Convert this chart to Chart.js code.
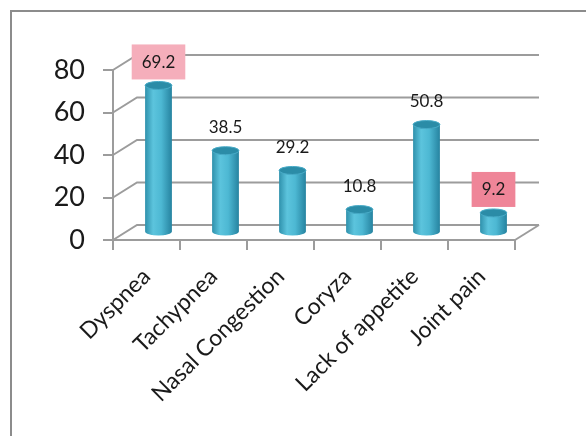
<!DOCTYPE html>
<html>
<head>
<meta charset="utf-8">
<script src="https://cdn.jsdelivr.net/npm/chart.js"></script>
<style>
  html, body { margin: 0; padding: 0; background: #fff; }
  #wrap { position: relative; width: 586px; height: 436px; }
</style>
</head>
<body>
<div id="wrap"><canvas id="symptomChart" width="586" height="436"></canvas></div>
<script>
const symptoms = ['Dyspnea', 'Tachypnea', 'Nasal Congestion', 'Coryza', 'Lack of appetite', 'Joint pain'];
const percentages = [69.2, 38.5, 29.2, 10.8, 50.8, 9.2];
const yTicks = [0, 20, 40, 60, 80];
const labelBoxColors = ['#f5aebb', null, null, null, null, '#ef8598'];

// offset of the back wall (fake 3D depth)
const DEPTH_X = 24;
const DEPTH_Y = -15;
const LINE_COLOR = '#9c9c9c';
const FONT = 'Lato, "Open Sans", sans-serif';

// grey frame around the whole chart
const framePlugin = {
  id: 'frame',
  beforeDraw(chart) {
    const ctx = chart.ctx;
    ctx.save();
    ctx.strokeStyle = '#8c8c8c';
    ctx.lineWidth = 2;
    ctx.strokeRect(11, 11, 620, 480);
    ctx.restore();
  }
};

// back wall gridlines, side diagonals and floor edge
const wallPlugin = {
  id: 'wall3d',
  beforeDatasetsDraw(chart) {
    const ctx = chart.ctx;
    const area = chart.chartArea;
    const y = chart.scales.y;
    ctx.save();
    ctx.strokeStyle = LINE_COLOR;
    ctx.lineWidth = 2;
    yTicks.forEach(v => {
      const py = y.getPixelForValue(v);
      ctx.beginPath();
      ctx.moveTo(area.left, py);
      ctx.lineTo(area.left + DEPTH_X, py + DEPTH_Y);
      ctx.lineTo(area.right + DEPTH_X, py + DEPTH_Y);
      ctx.stroke();
    });
    const p0 = y.getPixelForValue(0);
    ctx.beginPath();
    ctx.moveTo(area.right, p0);
    ctx.lineTo(area.right + DEPTH_X, p0 + DEPTH_Y);
    ctx.stroke();
    ctx.restore();
  }
};

// cylinders drawn over the (transparent) bar elements
const cylinderPlugin = {
  id: 'cylinders',
  afterDatasetsDraw(chart) {
    const ctx = chart.ctx;
    const meta = chart.getDatasetMeta(0);
    ctx.save();
    meta.data.forEach((el, i) => {
      const cx = el.x + DEPTH_X / 2;
      const top = el.y + DEPTH_Y / 2;
      const bottom = el.base + DEPTH_Y / 2;
      const rx = el.width / 2;
      const ry = 4;

      const grad = ctx.createLinearGradient(cx - rx, 0, cx + rx, 0);
      grad.addColorStop(0, '#2f91ac');
      grad.addColorStop(0.3, '#5cc4dd');
      grad.addColorStop(0.6, '#4db8d3');
      grad.addColorStop(1, '#2683a0');

      ctx.beginPath();
      ctx.moveTo(cx - rx, top);
      ctx.lineTo(cx - rx, bottom);
      ctx.ellipse(cx, bottom, rx, ry, 0, Math.PI, 0, true);
      ctx.lineTo(cx + rx, top);
      ctx.closePath();
      ctx.fillStyle = grad;
      ctx.fill();

      ctx.beginPath();
      ctx.ellipse(cx, top, rx, ry, 0, 0, Math.PI * 2);
      ctx.fillStyle = '#2b8ca7';
      ctx.fill();
      ctx.strokeStyle = '#48abc7';
      ctx.lineWidth = 1;
      ctx.stroke();

      // value label
      const value = percentages[i];
      const ly = top - 24;
      ctx.font = '17px ' + FONT;
      ctx.textAlign = 'center';
      ctx.textBaseline = 'middle';
      if (labelBoxColors[i]) {
        const w = ctx.measureText(String(value)).width + 20;
        ctx.fillStyle = labelBoxColors[i];
        ctx.fillRect(cx - w / 2, ly - 17, w, 35);
      }
      ctx.fillStyle = '#1a1a1a';
      ctx.fillText(String(value), cx, ly + 1);
    });
    ctx.restore();
  }
};

new Chart(document.getElementById('symptomChart'), {
  type: 'bar',
  data: {
    labels: symptoms,
    datasets: [{
      data: percentages,
      backgroundColor: 'rgba(0,0,0,0)',
      borderWidth: 0,
      barPercentage: 0.4,
      categoryPercentage: 1
    }]
  },
  options: {
    responsive: false,
    animation: false,
    layout: { padding: { top: 70, right: 71, left: 0, bottom: 0 } },
    plugins: {
      legend: { display: false },
      tooltip: { enabled: false }
    },
    scales: {
      x: {
        afterFit: s => { s.height = 196; },
        grid: { drawOnChartArea: false, color: LINE_COLOR, lineWidth: 2, tickLength: 10 },
        border: { display: true, color: LINE_COLOR, width: 2 },
        ticks: {
          autoSkip: false,
          minRotation: 45,
          maxRotation: 45,
          padding: 13,
          color: '#1a1a1a',
          font: { family: FONT, size: 23 }
        }
      },
      y: {
        min: 0,
        max: 80,
        afterFit: s => { s.width = 113; },
        afterBuildTicks: s => { s.ticks = yTicks.map(v => ({ value: v })); },
        grid: { drawOnChartArea: false, color: LINE_COLOR, lineWidth: 2, tickLength: 10 },
        border: { display: true, color: LINE_COLOR, width: 2 },
        ticks: {
          padding: 18,
          color: '#1a1a1a',
          font: { family: FONT, size: 27 }
        }
      }
    }
  },
  plugins: [framePlugin, wallPlugin, cylinderPlugin]
});
</script>
</body>
</html>
